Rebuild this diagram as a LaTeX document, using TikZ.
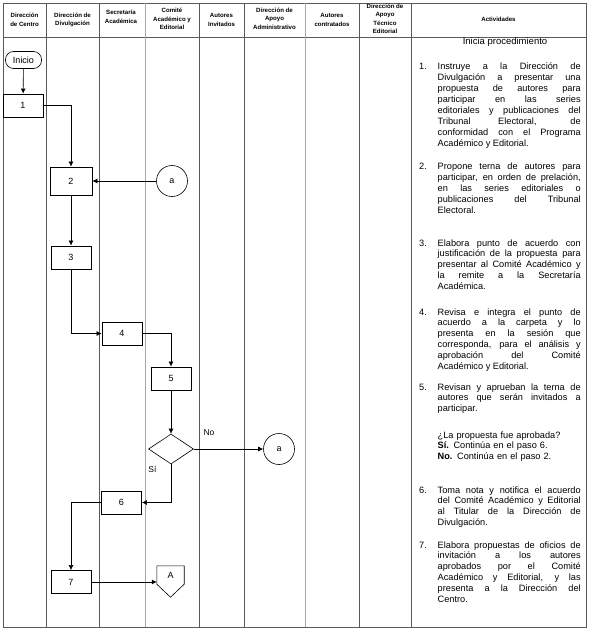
\documentclass[tikz,border=0pt]{standalone}
\usepackage{fontspec}
\setmainfont{Liberation Sans}
\usetikzlibrary{shapes.geometric,arrows.meta,calc}
\tolerance=10000
\hbadness=10000
\begin{document}
\begin{tikzpicture}[x=1pt,y=-1pt,
  tbl/.style={draw=black!65,line width=0.6pt},
  tbllight/.style={draw=black!35,line width=1pt},
  hdr/.style={font=\bfseries\fontsize{6.1}{8.5}\selectfont,align=center,inner sep=0pt},
  stepbox/.style={draw,line width=0.9pt,fill=white,minimum width=40pt,minimum height=23pt,inner sep=0pt,font=\fontsize{9}{10}\selectfont},
  conn/.style={draw,circle,line width=0.6pt,fill=white,minimum size=31pt,inner sep=0pt,font=\fontsize{9}{10}\selectfont},
  flow/.style={draw,line width=0.6pt,-{Latex[length=5pt,width=5pt]}},
  lbl/.style={inner sep=0pt,font=\fontsize{8.5}{10}\selectfont},
  item/.style={anchor=base west,text width=143pt,align=justify,inner sep=0pt,font=\fontsize{9.2}{10.9}\selectfont},
  itemplain/.style={anchor=base west,text width=143pt,align=left,inner sep=0pt,font=\fontsize{9.2}{10.9}\selectfont},
  num/.style={anchor=base west,inner sep=0pt,font=\fontsize{9.2}{10.9}\selectfont}]
\useasboundingbox (0,0) rectangle (589,631);
% table
\draw[tbl] (3,3) rectangle (586,627);
\draw[tbl] (3,37) -- (586,37);
\foreach \xx in {46,99,199,244,359,411} {\draw[tbl] (\xx,3) -- (\xx,627);}
\foreach \xx in {145,305} {\draw[tbllight] (\xx,3) -- (\xx,627);}
% headers
\node[hdr] (h1) at (24.5,20) {Dirección\\de Centro};
\node[hdr] (h2) at (72.5,20) {Dirección de\\Divulgación};
\node[hdr] (h3) at (121,16.7) {Secretaría\\Académica};
\node[hdr] (h4) at (172,19) {Comité\\Académico y\\Editorial};
\node[hdr] (h5) at (221.5,20) {Autores\\Invitados};
\node[hdr] (h6) at (274.5,18.7) {Dirección de\\Apoyo\\Administrativo};
\node[hdr] (h7) at (332,20) {Autores\\contratados};
\node[hdr] (h8) at (385,19) {Dirección de\\Apoyo\\Técnico\\Editorial};
\node[hdr] (h9) at (498.5,19.5) {Actividades};
% flow
\node[draw,line width=0.6pt,rounded corners=8pt,minimum width=36pt,minimum height=17pt,inner sep=0pt,font=\fontsize{9}{10}\selectfont] (ini) at (23.5,60) {Inicio};
\node[stepbox] (b1) at (23,105.5) {1};
\node[stepbox,minimum width=42pt,minimum height=28pt] (b2) at (71,181) {2};
\node[conn] (ca) at (172,181) {a};
\node[stepbox] (b3) at (71,257.5) {3};
\node[stepbox] (b4) at (122,333.5) {4};
\node[stepbox] (b5) at (171,378.5) {5};
\node[draw,diamond,line width=0.6pt,minimum width=45pt,minimum height=30pt,inner sep=0pt] (dia) at (171,449) {};
\node[conn] (cb) at (279,449) {a};
\node[stepbox] (b6) at (121.5,502.5) {6};
\node[stepbox] (b7) at (71,582) {7};
\node[minimum width=27pt,minimum height=18pt,inner sep=0pt,font=\fontsize{9}{10}\selectfont] (offA) at (170.5,575) {A};
\draw[line width=0.6pt] (offA.north west) -- (offA.north east) -- (offA.south east) -- ($(offA.south)+(0,13)$) -- (offA.south west) -- cycle;
\node[lbl] (no) at (209,432.5) {No};
\node[lbl] (si) at (152.5,469.5) {Sí};
\draw[flow] (ini) -- (b1);
\draw[flow] (b1.east) -| (b2.north);
\draw[flow] (ca) -- (b2.east);
\draw[flow] (b2) -- (b3);
\draw[flow] (b3.south) |- (b4.west);
\draw[flow] (b4.east) -| (b5.north);
\draw[flow] (b5) -- (dia);
\draw[flow] (dia.east) -- (cb.west);
\draw[flow] (dia.south) |- (b6.east);
\draw[flow] (b6.west) -| (b7.north);
\draw[flow] (b7.east) -- (b7.east -| offA.west);
% activities
\node[anchor=base,inner sep=0pt,font=\fontsize{9.5}{10.9}\selectfont] (t0) at (505,45) {Inicia procedimiento};
\node[num] (n1) at (419,70) {1.};
\node[item] (t1) at (437.5,70) {Instruye a la Dirección de\linebreak Divulgación a presentar una\linebreak propuesta de autores para\linebreak participar en las series\linebreak editoriales y publicaciones del\linebreak Tribunal Electoral, de\linebreak conformidad con el Programa\linebreak Académico y Editorial.};
\node[num] (n2) at (419,170) {2.};
\node[item] (t2) at (437.5,170) {Propone terna de autores para\linebreak participar, en orden de prelación,\linebreak en las series editoriales o\linebreak publicaciones del Tribunal\linebreak Electoral.};
\node[num] (n3) at (419,246) {3.};
\node[item] (t3) at (437.5,246) {Elabora punto de acuerdo con\linebreak justificación de la propuesta para\linebreak presentar al Comité Académico y\linebreak la remite a la Secretaría\linebreak Académica.};
\node[num] (n4) at (419,315) {4.};
\node[item] (t4) at (437.5,315) {Revisa e integra el punto de\linebreak acuerdo a la carpeta y lo\linebreak presenta en la sesión que\linebreak corresponda, para el análisis y\linebreak aprobación del Comité\linebreak Académico y Editorial.};
\node[num] (n5) at (419,390) {5.};
\node[item] (t5) at (437.5,390) {Revisan y aprueban la terna de\linebreak autores que serán invitados a\linebreak participar.};
\node[itemplain] (tq) at (437.5,438) {¿La propuesta fue aprobada?\\\textbf{Sí.} Continúa en el paso 6.\\\textbf{No.} Continúa en el paso 2.};
\node[num] (n6) at (419,493) {6.};
\node[item] (t6) at (437.5,493) {Toma nota y notifica el acuerdo\linebreak del Comité Académico y Editorial\linebreak al Titular de la Dirección de\linebreak Divulgación.};
\node[num] (n7) at (419,548) {7.};
\node[item] (t7) at (437.5,548) {Elabora propuestas de oficios de\linebreak invitación a los autores\linebreak aprobados por el Comité\linebreak Académico y Editorial, y las\linebreak presenta a la Dirección del\linebreak Centro.};
\end{tikzpicture}
\end{document}
